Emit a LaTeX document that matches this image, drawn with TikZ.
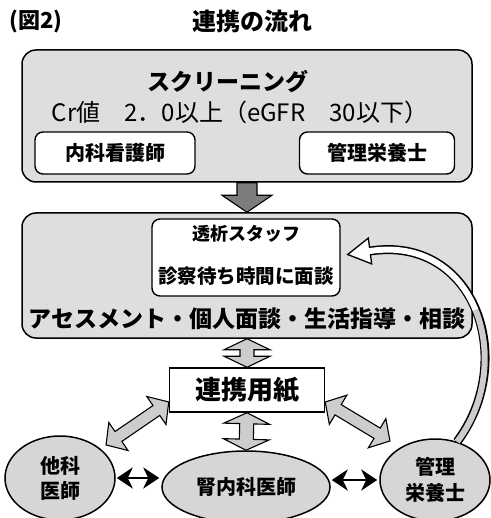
\documentclass[tikz,border=0pt]{standalone}
\usepackage{fontspec}
\setmainfont{Noto Sans CJK JP}
\usetikzlibrary{shapes.geometric,arrows.meta}
\definecolor{boxgray}{RGB}{222,222,222}
\definecolor{ovalgray}{RGB}{214,214,214}
\definecolor{arrowgray}{RGB}{205,205,205}
\definecolor{deepgray}{RGB}{125,125,125}
\newcommand{\jsize}[1]{\fontsize{#1}{#1}\selectfont}
% block arrow, heads at both ends: style, from, to, half shaft, half head, head length
\newcommand{\dblockarrow}[6]{
    \pgfmathanglebetweenpoints{\pgfpointanchor{#2}{center}}{\pgfpointanchor{#3}{center}}
    \let\arang\pgfmathresult
    \pgfpointdiff{\pgfpointanchor{#2}{center}}{\pgfpointanchor{#3}{center}}
    \pgfgetlastxy{\ardx}{\ardy}
    \pgfmathsetmacro{\arlen}{veclen(\ardx,\ardy)}
    \draw[#1, shift={(#2)}, rotate=\arang] (0,0)--(#6,#5)--(#6,#4)--(\arlen-#6,#4)--(\arlen-#6,#5)--(\arlen,0)
        --(\arlen-#6,-#5)--(\arlen-#6,-#4)--(#6,-#4)--(#6,-#5)--cycle;
}
% block arrow, one head
\newcommand{\sblockarrow}[6]{
    \pgfmathanglebetweenpoints{\pgfpointanchor{#2}{center}}{\pgfpointanchor{#3}{center}}
    \let\arang\pgfmathresult
    \pgfpointdiff{\pgfpointanchor{#2}{center}}{\pgfpointanchor{#3}{center}}
    \pgfgetlastxy{\ardx}{\ardy}
    \pgfmathsetmacro{\arlen}{veclen(\ardx,\ardy)}
    \draw[#1, shift={(#2)}, rotate=\arang] (0,#4)--(\arlen-#6,#4)--(\arlen-#6,#5)--(\arlen,0)
        --(\arlen-#6,-#5)--(\arlen-#6,-#4)--(0,-#4)--cycle;
}

\begin{document}
\begin{tikzpicture}[x=1pt,y=-1pt,
    bigbox/.style={draw, line width=1.5pt, rounded corners=14pt, fill=boxgray},
    smallbox/.style={draw, line width=1.4pt, rounded corners=8pt, fill=white},
    oval/.style={ellipse, draw, line width=1.5pt, fill=ovalgray, align=center, inner sep=0pt},
    txt/.style={inner sep=0pt},
    grayarrow/.style={draw, line width=1.1pt, fill=arrowgray, line join=miter},
    darkarrow/.style={draw, line width=1.1pt, fill=deepgray, line join=miter},
    pairarrow/.style={line width=2.8pt, {Stealth[length=16pt,width=21pt,inset=5pt]}-{Stealth[length=16pt,width=21pt,inset=5pt]}, shorten <=1pt, shorten >=2pt}]
\useasboundingbox (0,0) rectangle (490,518);
\node[txt, font=\bfseries\jsize{22}] (fig) at (36,22) {(図2)};
\node[txt, font=\bfseries\jsize{24}] (title) at (252,21) {連携の流れ};

% screening
\node[bigbox, minimum width=450pt, minimum height=132pt] (screen) at (247,116) {};
\node[txt, font=\bfseries\jsize{23}] (scr) at (228,82) {スクリーニング};
\node[txt, font=\jsize{24}] (cr) at (240,112) {Cr値　2．0以上（eGFR　30以下）};
\node[smallbox, minimum width=160pt, minimum height=42pt, font=\bfseries\jsize{20}] (naika) at (115,153) {内科看護師};
\node[smallbox, minimum width=155pt, minimum height=42pt, font=\bfseries\jsize{20}] (kanri) at (377,153) {管理栄養士};

% assessment
\node[bigbox, minimum width=450pt, minimum height=125pt] (mid) at (247,275.5) {};
\node[smallbox, minimum width=188pt, minimum height=77pt] (touseki) at (246,257.5) {};
\node[txt, font=\bfseries\jsize{18}] (tou1) at (246,234) {透析スタッフ};
\node[txt, font=\bfseries\jsize{19.5}] (tou2) at (246,276) {診察待ち時間に面談};
\node[txt, font=\bfseries\jsize{23}] (asses) at (247,319) {アセスメント・個人面談・生活指導・相談};

\node[draw, line width=1.5pt, fill=white, minimum width=155pt, minimum height=44pt, font=\bfseries\jsize{26}] (renkei) at (247,390) {連携用紙};

\node[oval, minimum width=110pt, minimum height=84pt, font=\bfseries\fontsize{20}{25}\selectfont] (taka) at (60,478) {他科\\医師};
\node[oval, minimum width=168pt, minimum height=72pt, font=\bfseries\jsize{20}] (jin) at (246,487) {腎内科医師};
\node[oval, minimum width=110pt, minimum height=82pt, font=\bfseries\fontsize{20}{26}\selectfont] (eiyo) at (435,480) {管理\\栄養士};

% block arrows
\coordinate (a1) at (screen.south); \coordinate (a2) at (mid.north);
\coordinate (b1) at (mid.south); \coordinate (b2) at (renkei.north);
\coordinate (c1) at (renkei.south); \coordinate (c2) at (jin.north);
\coordinate (d1) at ([yshift=-12pt]renkei.west); \coordinate (d2) at (106,445);
\coordinate (e1) at ([yshift=-12pt]renkei.east); \coordinate (e2) at (390,441);
\sblockarrow{darkarrow}{a1}{a2}{10}{25}{17}
\dblockarrow{grayarrow}{b1}{b2}{7}{23}{11}
\dblockarrow{grayarrow}{c1}{c2}{7}{23}{11}
\dblockarrow{grayarrow}{d1}{d2}{6}{17}{15}
\dblockarrow{grayarrow}{e1}{e2}{6}{17}{15}

\draw[pairarrow] (taka.east) -- (taka.east -| jin.west);
\draw[pairarrow] (jin.east |- eiyo.west) -- (eiyo.west);

% curved arrow back to the dialysis staff
\coordinate (hb) at (370,251);
\coordinate (tip) at ([xshift=7pt,yshift=3pt]touseki.east);
\draw[line width=9pt] (eiyo.60) .. controls (518,360) and (475,235) .. (hb);
\draw[line width=1.3pt, fill=white, line join=miter] (tip)--(368.3,238.1)--(371.7,263.9)--cycle;
\draw[line width=6pt, arrowgray] (eiyo.60) .. controls (487,402.5) and (491.75,350) .. (475.6,310.1);
\draw[line width=6pt, white] (475.6,310.1) .. controls (459.5,270.25) and (422.5,243) .. (hb) -- (366,251.5);
\end{tikzpicture}
\end{document}
